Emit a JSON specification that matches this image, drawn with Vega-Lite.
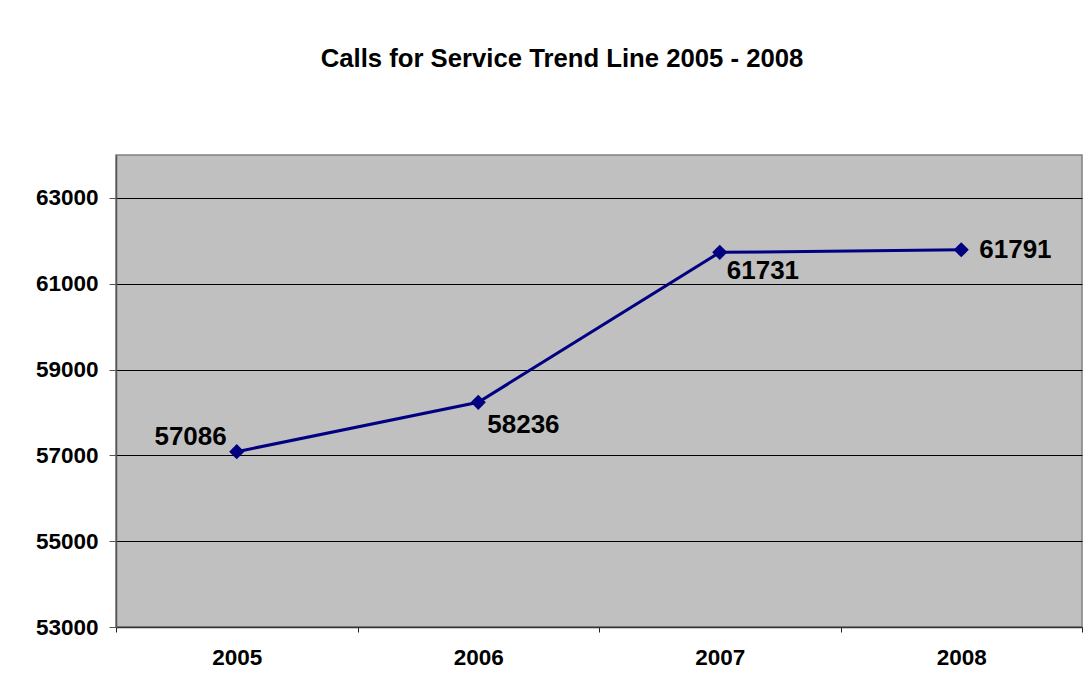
{
  "$schema": "https://vega.github.io/schema/vega-lite/v6.json",
  "autosize": "none",
  "width": 966,
  "height": 472,
  "padding": {"left": 116, "top": 155, "right": 10, "bottom": 66},
  "background": "white",
  "config": {
    "font": "Liberation Sans",
    "view": {"fill": "#C0C0C0", "stroke": "#808080", "strokeWidth": 1.5}
  },
  "title": {
    "text": "Calls for Service Trend Line 2005 - 2008",
    "font": "Liberation Sans",
    "fontSize": 25.7,
    "fontWeight": "bold",
    "color": "black",
    "anchor": "middle",
    "baseline": "alphabetic",
    "offset": 62,
    "dx": -37
  },
  "data": {
    "values": [
      {"year": "2005", "calls": 57086},
      {"year": "2006", "calls": 58236},
      {"year": "2007", "calls": 61731},
      {"year": "2008", "calls": 61791}
    ]
  },
  "encoding": {
    "x": {
      "field": "year",
      "type": "ordinal",
      "scale": {"type": "band", "paddingInner": 0, "paddingOuter": 0},
      "axis": {
        "title": null,
        "labelAngle": 0,
        "labelFont": "Liberation Sans",
        "labelFontSize": 22.5,
        "labelFontWeight": "bold",
        "labelColor": "black",
        "labelPadding": 14,
        "tickBand": "extent",
        "tickSize": 5,
        "tickColor": "#222",
        "domainColor": "#333",
        "domainWidth": 1.5,
        "grid": false
      }
    },
    "y": {
      "field": "calls",
      "type": "quantitative",
      "scale": {"domain": [53000, 64000], "nice": false, "zero": false},
      "axis": {
        "title": null,
        "values": [53000, 55000, 57000, 59000, 61000, 63000],
        "format": "d",
        "labelFont": "Liberation Sans",
        "labelFontSize": 22.5,
        "labelFontWeight": "bold",
        "labelColor": "black",
        "labelPadding": 11,
        "tickSize": 7,
        "tickColor": "#555",
        "domainColor": "#555",
        "domainWidth": 1.5,
        "grid": true,
        "gridColor": "black",
        "gridWidth": 1
      }
    }
  },
  "layer": [
    {"mark": {"type": "line", "color": "#000080", "strokeWidth": 3}},
    {"mark": {"type": "point", "shape": "diamond", "filled": true, "color": "#000080", "size": 230, "opacity": 1}},
    {
      "transform": [{"filter": "datum.year == '2005'"}],
      "mark": {"type": "text", "align": "right", "baseline": "middle", "dx": -10, "dy": -15, "fontSize": 26, "fontWeight": "bold", "color": "black"},
      "encoding": {"text": {"field": "calls", "type": "quantitative", "format": "d"}}
    },
    {
      "transform": [{"filter": "datum.year == '2006'"}],
      "mark": {"type": "text", "align": "left", "baseline": "middle", "dx": 9, "dy": 23, "fontSize": 26, "fontWeight": "bold", "color": "black"},
      "encoding": {"text": {"field": "calls", "type": "quantitative", "format": "d"}}
    },
    {
      "transform": [{"filter": "datum.year == '2007'"}],
      "mark": {"type": "text", "align": "left", "baseline": "middle", "dx": 7, "dy": 19, "fontSize": 26, "fontWeight": "bold", "color": "black"},
      "encoding": {"text": {"field": "calls", "type": "quantitative", "format": "d"}}
    },
    {
      "transform": [{"filter": "datum.year == '2008'"}],
      "mark": {"type": "text", "align": "left", "baseline": "middle", "dx": 18, "dy": 0, "fontSize": 26, "fontWeight": "bold", "color": "black"},
      "encoding": {"text": {"field": "calls", "type": "quantitative", "format": "d"}}
    }
  ]
}
